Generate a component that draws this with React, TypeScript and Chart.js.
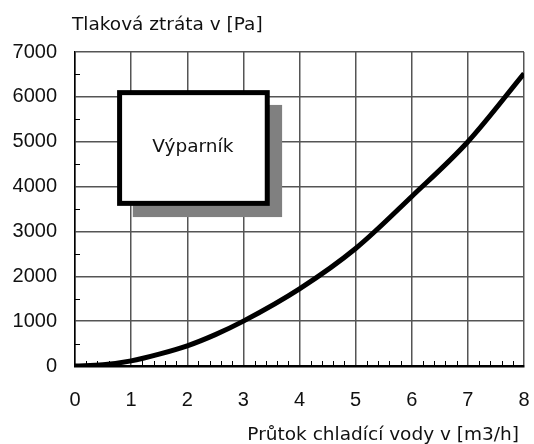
import React, { useEffect, useRef } from "react";
import { Chart, registerables } from "chart.js";

Chart.register(...registerables);

// Flow rate [m3/h]
const flow = [0, 0.5, 1, 1.5, 2, 2.5, 3, 4, 5, 6, 7, 8];
// Pressure loss [Pa]
const pressure = [0, 30, 115, 265, 450, 700, 1000, 1720, 2620, 3780, 5000, 6520];

const xMin = 0;
const xMax = 8;
const yMin = 0;
const yMax = 7000;
const xMinorStep = 0.2;
const yMinorStep = 500;

const yTitle = "Tlaková ztráta v [Pa]";
const xTitle = "Průtok chladící vody v [m3/h]";
const boxLabel = "Výparník";

// annotation box in data units
const boxX = [0.75, 3.47];
const boxY = [6150, 3570];
const shadowX = [1.03, 3.69];
const shadowY = [5820, 3320];
const boxLabelAt = [2.1, 4880];

const textFont = "'DejaVu Sans', sans-serif";
const tickFont = "'Liberation Sans', Arial, sans-serif";

const decorPlugin = {
  id: "decor",
  beforeDatasetsDraw(chart: any) {
    const { ctx, chartArea, scales } = chart;
    const xs = scales.x;
    const ys = scales.y;
    ctx.save();
    ctx.strokeStyle = "#000";
    ctx.lineWidth = 1;
    for (let v = yMin + yMinorStep; v < yMax; v += yMinorStep * 2) {
      const py = Math.round(ys.getPixelForValue(v)) + 0.5;
      ctx.beginPath();
      ctx.moveTo(chartArea.left, py);
      ctx.lineTo(chartArea.left + 5, py);
      ctx.stroke();
    }
    for (let i = 1; i < (xMax - xMin) / xMinorStep; i++) {
      const v = xMin + i * xMinorStep;
      if (Math.abs(v - Math.round(v)) < 1e-6) continue;
      const px = Math.round(xs.getPixelForValue(v)) + 0.5;
      ctx.beginPath();
      ctx.moveTo(px, chartArea.bottom);
      ctx.lineTo(px, chartArea.bottom - 5);
      ctx.stroke();
    }
    ctx.restore();
  },
  afterDatasetsDraw(chart: any) {
    const { ctx, scales } = chart;
    const xs = scales.x;
    const ys = scales.y;
    ctx.save();
    const sx0 = xs.getPixelForValue(shadowX[0]);
    const sx1 = xs.getPixelForValue(shadowX[1]);
    const sy0 = ys.getPixelForValue(shadowY[0]);
    const sy1 = ys.getPixelForValue(shadowY[1]);
    ctx.fillStyle = "#808080";
    ctx.fillRect(sx0, sy0, sx1 - sx0, sy1 - sy0);
    const bx0 = xs.getPixelForValue(boxX[0]);
    const bx1 = xs.getPixelForValue(boxX[1]);
    const by0 = ys.getPixelForValue(boxY[0]);
    const by1 = ys.getPixelForValue(boxY[1]);
    const bw = 5;
    ctx.fillStyle = "#000";
    ctx.fillRect(bx0, by0, bx1 - bx0, by1 - by0);
    ctx.fillStyle = "#fff";
    ctx.fillRect(bx0 + bw, by0 + bw, bx1 - bx0 - 2 * bw, by1 - by0 - 2 * bw);
    ctx.fillStyle = "#111";
    ctx.font = `18.5px ${textFont}`;
    ctx.textAlign = "center";
    ctx.textBaseline = "middle";
    ctx.fillText(boxLabel, xs.getPixelForValue(boxLabelAt[0]), ys.getPixelForValue(boxLabelAt[1]));
    ctx.restore();
  },
  afterDraw(chart: any) {
    const { ctx, chartArea } = chart;
    ctx.save();
    ctx.fillStyle = "#111";
    ctx.font = `18.5px ${textFont}`;
    ctx.textBaseline = "alphabetic";
    ctx.textAlign = "left";
    ctx.fillText(yTitle, chartArea.left - 3, 30);
    ctx.textAlign = "right";
    ctx.fillText(xTitle, chartArea.right - 5, 440);
    ctx.restore();
  },
};

export default function App() {
  const canvasRef = useRef<HTMLCanvasElement | null>(null);

  useEffect(() => {
    if (!canvasRef.current) return;
    const chart = new Chart(canvasRef.current, {
      type: "line",
      data: {
        datasets: [
          {
            data: flow.map((x, i) => ({ x, y: pressure[i] })),
            borderColor: "#000",
            borderWidth: 5,
            pointRadius: 0,
            fill: false,
            cubicInterpolationMode: "monotone",
          },
        ],
      },
      options: {
        animation: false,
        responsive: true,
        maintainAspectRatio: false,
        layout: { padding: { top: 52, right: 10, left: 0, bottom: 0 } },
        plugins: { legend: { display: false }, tooltip: { enabled: false }, title: { display: false } },
        scales: {
          x: {
            type: "linear",
            min: xMin,
            max: xMax,
            afterFit: (s: any) => {
              s.height = 78;
              s.paddingLeft = 0;
              s.paddingRight = 0;
            },
            ticks: {
              stepSize: 1,
              autoSkip: false,
              maxRotation: 0,
              padding: 22,
              color: "#111",
              font: { family: tickFont, size: 20 },
              callback: (v: any) => String(v),
            },
            grid: { color: "#555", lineWidth: 1.5, drawTicks: false },
            border: { color: "#000", width: 2.5 },
          },
          y: {
            type: "linear",
            min: yMin,
            max: yMax,
            afterFit: (s: any) => {
              s.width = 75;
              s.paddingTop = 0;
              s.paddingBottom = 0;
            },
            ticks: {
              stepSize: 1000,
              padding: 18,
              color: "#111",
              font: { family: tickFont, size: 20 },
              callback: (v: any) => String(v),
            },
            grid: { color: "#555", lineWidth: 1.5, drawTicks: false },
            border: { color: "#000", width: 1.5 },
          },
        },
      },
      plugins: [decorPlugin],
    } as any);
    return () => chart.destroy();
  }, []);

  return (
    <div style={{ position: "fixed", left: 0, top: 0, width: 534, height: 444, background: "#fff" }}>
      <canvas ref={canvasRef} />
    </div>
  );
}
